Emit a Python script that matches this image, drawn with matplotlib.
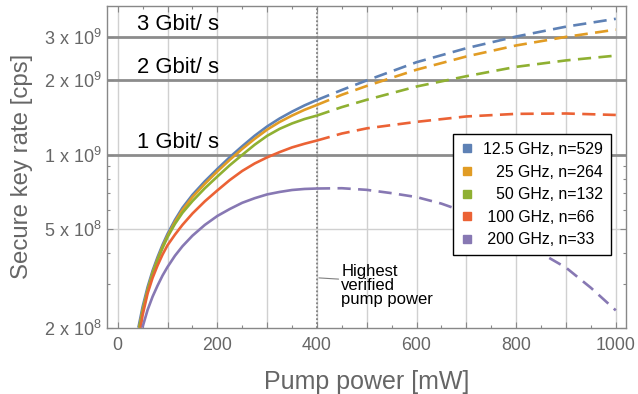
import matplotlib
matplotlib.use("Agg")
import matplotlib.pyplot as plt
from matplotlib.lines import Line2D
from matplotlib.ticker import FixedLocator, NullFormatter

plt.rcParams['font.family'] = ['Liberation Sans', 'DejaVu Sans']
plt.rcParams['mathtext.fontset'] = 'custom'
plt.rcParams['mathtext.rm'] = 'Liberation Sans'
plt.rcParams['mathtext.it'] = 'Liberation Sans:italic'
plt.rcParams['mathtext.bf'] = 'Liberation Sans:bold'

# ---------------- data ----------------
labels = ["12.5 GHz, n=529", "   25 GHz, n=264", "   50 GHz, n=132",
          " 100 GHz, n=66", " 200 GHz, n=33"]
colors = ["#5E81B5", "#E19C24", "#8FB032", "#EB6235", "#8778B3"]

# verified region (solid), pump power in mW
power_12_5 = [41.5, 50, 60, 70, 80, 90, 100, 115, 130, 150, 175, 200, 225, 250, 275,
              300, 325, 350, 375, 400]
rate_12_5 = [2.0e8, 2.43e8, 2.92e8, 3.40e8, 3.86e8, 4.33e8, 4.79e8, 5.46e8, 6.11e8,
             6.89e8, 7.82e8, 8.77e8, 9.79e8, 1.084e9, 1.195e9, 1.303e9, 1.403e9,
             1.496e9, 1.585e9, 1.667e9]
power_25 = [43, 50, 60, 70, 80, 90, 100, 115, 130, 150, 175, 200, 225, 250, 275,
            300, 325, 350, 375, 400]
rate_25 = [2.0e8, 2.35e8, 2.84e8, 3.33e8, 3.78e8, 4.25e8, 4.70e8, 5.36e8, 5.98e8,
           6.75e8, 7.64e8, 8.57e8, 9.55e8, 1.057e9, 1.161e9, 1.265e9, 1.358e9,
           1.442e9, 1.521e9, 1.592e9]
power_50 = [43.5, 50, 60, 70, 80, 90, 100, 115, 130, 150, 175, 200, 225, 250, 275,
            300, 325, 350, 375, 400]
rate_50 = [2.0e8, 2.32e8, 2.82e8, 3.30e8, 3.75e8, 4.20e8, 4.65e8, 5.26e8, 5.83e8,
           6.50e8, 7.33e8, 8.17e8, 9.08e8, 1.0e9, 1.099e9, 1.194e9, 1.274e9,
           1.340e9, 1.396e9, 1.442e9]
power_100 = [46, 50, 60, 70, 80, 90, 100, 115, 130, 150, 175, 200, 225, 250, 275,
             300, 325, 350, 375, 400]
rate_100 = [2.0e8, 2.25e8, 2.75e8, 3.18e8, 3.57e8, 3.95e8, 4.31e8, 4.76e8, 5.21e8,
            5.79e8, 6.49e8, 7.18e8, 7.91e8, 8.61e8, 9.23e8, 9.77e8, 1.026e9,
            1.072e9, 1.109e9, 1.143e9]
power_200 = [49.5, 60, 70, 80, 90, 100, 115, 130, 150, 175, 200, 225, 250, 275,
             300, 325, 350, 375, 400]
rate_200 = [2.0e8, 2.36e8, 2.67e8, 2.96e8, 3.25e8, 3.52e8, 3.91e8, 4.27e8, 4.71e8,
            5.21e8, 5.66e8, 6.04e8, 6.40e8, 6.68e8, 6.92e8, 7.08e8, 7.21e8,
            7.28e8, 7.31e8]

# extrapolated region (dashed)
power_ext = [400, 450, 500, 600, 700, 800, 900, 1000]
ext_12_5 = [1.667e9, 1.83e9, 2.0e9, 2.37e9, 2.70e9, 3.01e9, 3.30e9, 3.55e9]
ext_25 = [1.592e9, 1.75e9, 1.90e9, 2.21e9, 2.50e9, 2.77e9, 3.00e9, 3.21e9]
ext_50 = [1.442e9, 1.56e9, 1.67e9, 1.89e9, 2.08e9, 2.27e9, 2.41e9, 2.52e9]
ext_100 = [1.143e9, 1.22e9, 1.28e9, 1.36e9, 1.43e9, 1.465e9, 1.47e9, 1.45e9]
power_ext_200 = [400, 450, 500, 550, 600, 650, 700, 750, 800, 850, 900, 950, 1000]
ext_200 = [7.31e8, 7.33e8, 7.22e8, 7.0e8, 6.75e8, 6.35e8, 5.85e8, 5.25e8,
           4.6e8, 4.0e8, 3.5e8, 2.9e8, 2.35e8]

gbit_levels = [1e9, 2e9, 3e9]
gbit_labels = ["1 Gbit/ s", "2 Gbit/ s", "3 Gbit/ s"]
verified_power = 400

ytick_vals = [2e8, 5e8, 1e9, 2e9, 3e9]
ytick_labels = [r"2 x 10$^{8}$", r"5 x 10$^{8}$", r"1 x 10$^{9}$",
                r"2 x 10$^{9}$", r"3 x 10$^{9}$"]
xtick_vals = [0, 200, 400, 600, 800, 1000]

# ---------------- figure ----------------
fig = plt.figure(figsize=(6.38, 3.94), dpi=100)
ax = fig.add_axes([107/638, 1 - 327.7/394, 519/638, 321.7/394])
ax.set_yscale('log')
ax.set_xlim(-21.5, 1020.5)
ax.set_ylim(2e8, 4.0e9)

axis_gray = "#888888"
label_gray = "#666666"

# grid
for xv in range(0, 1001, 100):
    ax.axvline(xv, color="#d0d0d0", lw=1.0, zorder=0)
ax.axhline(5e8, color="#d0d0d0", lw=1.0, zorder=0)
for lv in gbit_levels:
    ax.axhline(lv, color="#8c8c8c", lw=2.0, zorder=1)

solid = [(power_12_5, rate_12_5), (power_25, rate_25), (power_50, rate_50),
         (power_100, rate_100), (power_200, rate_200)]
dashed = [(power_ext, ext_12_5), (power_ext, ext_25), (power_ext, ext_50),
          (power_ext, ext_100), (power_ext_200, ext_200)]
for (xs, ys), (xd, yd), c in zip(solid, dashed, colors):
    ax.plot(xs, ys, color=c, lw=1.9, zorder=3, solid_capstyle='butt',
            solid_joinstyle='round')
    ax.plot(xd, yd, color=c, lw=1.9, zorder=3, linestyle=(0, (5.0, 2.8)))

ax.axvline(verified_power, color="#808080", lw=1.3, linestyle=(0, (1.0, 1.2)),
           zorder=2)

for lv, lab in zip(gbit_levels, gbit_labels):
    ax.annotate(lab, xy=(38, lv), xytext=(0, 5), textcoords='offset points',
                fontsize=15.8, color='black', ha='left', va='baseline', zorder=4)

ax.annotate("Highest\nverified\npump power", xy=(404, 3.18e8),
            xytext=(449, 2.97e8), fontsize=12, linespacing=0.9,
            ha='left', va='center', color='black',
            arrowprops=dict(arrowstyle='-', color='#808080', lw=0.8,
                            shrinkA=0, shrinkB=0, relpos=(0, 0.64)))

# ticks
ax.set_yticks(ytick_vals)
ax.set_yticklabels(ytick_labels)
ax.yaxis.set_minor_locator(FixedLocator([3e8, 4e8, 6e8, 7e8, 8e8, 9e8]))
ax.yaxis.set_minor_formatter(NullFormatter())
ax.set_xticks(list(range(0, 1001, 100)))
ax.set_xticklabels([str(v) if v in xtick_vals else "" for v in range(0, 1001, 100)])
ax.xaxis.set_minor_locator(FixedLocator(list(range(50, 1000, 100))))

ax.tick_params(which='both', direction='in', top=True, right=True,
               color=axis_gray, labelcolor=label_gray)
ax.tick_params(axis='x', labelsize=12.8)
ax.tick_params(axis='y', labelsize=13)
ax.tick_params(which='major', length=4.5, width=0.8)
ax.tick_params(which='minor', length=2.5, width=0.8)
ax.tick_params(axis='x', pad=7)
ax.tick_params(axis='y', pad=4)
for sp in ax.spines.values():
    sp.set_color(axis_gray)
    sp.set_linewidth(1.0)

ax.set_xlabel("Pump power [mW]", fontsize=18, color=label_gray)
ax.set_ylabel("Secure key rate [cps]", fontsize=17.3, color=label_gray)
ax.xaxis.set_label_coords(0.5, -0.13)
ax.yaxis.set_label_coords(-0.143, 0.5)

handles = [Line2D([], [], marker='s', linestyle='none', markersize=5.5,
                  markerfacecolor=c, markeredgecolor=c) for c in colors]
leg = ax.legend(handles, labels, loc='upper left', bbox_to_anchor=(0.667, 0.602),
                borderaxespad=0, fontsize=11.4, frameon=True, fancybox=False,
                edgecolor='black', framealpha=1, handlelength=0.8,
                handletextpad=0.6, labelspacing=0.48, borderpad=0.5)
leg.get_frame().set_linewidth(1.0)
leg.set_zorder(5)

fig.savefig("out.png", dpi=100)
